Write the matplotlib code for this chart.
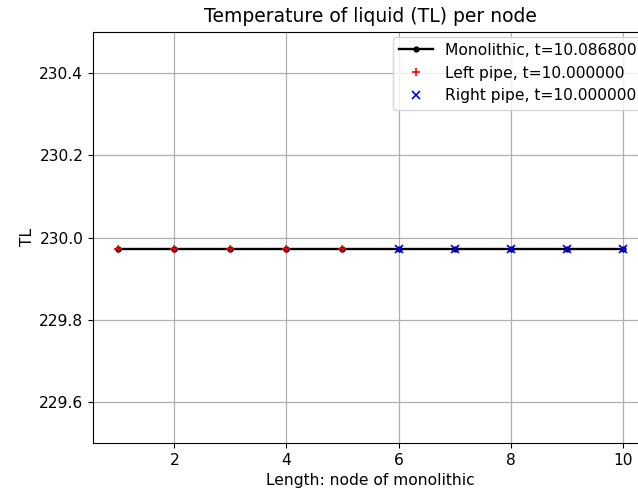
import matplotlib
matplotlib.use("Agg")
import matplotlib.pyplot as plt
import numpy as np

# data
nodes = [1, 2, 3, 4, 5, 6, 7, 8, 9, 10]
tl_mono = [229.972, 229.972, 229.972, 229.972, 229.972,
           229.972, 229.972, 229.972, 229.972, 229.972]
left_nodes = [1, 2, 3, 4, 5]
tl_left = [229.972, 229.972, 229.972, 229.972, 229.972]
right_nodes = [6, 7, 8, 9, 10]
tl_right = [229.972, 229.972, 229.972, 229.972, 229.972]

fig = plt.figure(figsize=(6.38, 4.93), dpi=100)
# axes runs a little past the right edge, like the reference
ax = fig.add_axes([93 / 638, 50 / 493, 555 / 638, 411 / 493])

ax.plot(nodes, tl_mono, 'k.-', linewidth=1.7, markersize=7,
        label='Monolithic, t=10.086800')
ax.plot(left_nodes, tl_left, 'r+', markersize=6, markeredgewidth=1.2,
        label='Left pipe, t=10.000000')
ax.plot(right_nodes, tl_right, 'bx', markersize=6, markeredgewidth=1.2,
        label='Right pipe, t=10.000000')

ax.set_ylim(229.5, 230.5)
ax.set_yticks([229.6, 229.8, 230.0, 230.2, 230.4])
ax.set_xticks([2, 4, 6, 8, 10])
ax.spines['right'].set_visible(False)
ax.grid(True, color='#b0b0b0', linewidth=0.9)
ax.set_title('Temperature of liquid (TL) per node', fontsize=13.5, pad=7)
ax.set_xlabel('Length: node of monolithic', fontsize=11.2)
ax.set_ylabel('TL', fontsize=11.2, labelpad=3)
ax.tick_params(labelsize=11.2)
ax.legend(loc='upper right', fontsize=11.2, borderaxespad=0.3,
          handlelength=2.2)

fig.savefig('out.png', dpi=100)
